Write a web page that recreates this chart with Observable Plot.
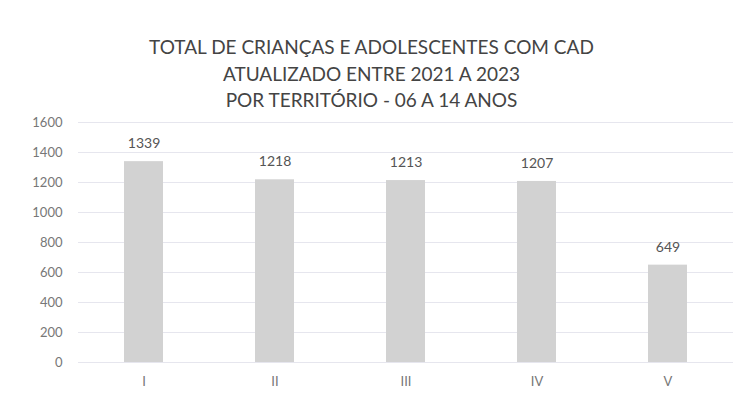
<!DOCTYPE html>
<html><head><meta charset="utf-8">
<script src="https://cdn.jsdelivr.net/npm/d3@7"></script>
<script src="https://cdn.jsdelivr.net/npm/@observablehq/plot@0.6"></script>
<style>
body{margin:0;background:#fff;font-family:Lato,"Open Sans",sans-serif;}
#title{width:743px;height:110px;box-sizing:border-box;padding-top:34px;text-align:center;color:#444;font-size:19px;line-height:26.5px;}
</style></head>
<body>
<div id="title">TOTAL DE CRIANÇAS E ADOLESCENTES COM CAD<br>ATUALIZADO ENTRE 2021 A 2023<br>POR TERRITÓRIO - 06 A 14 ANOS</div>
<div id="chart"></div>
<script>
const territorios = ["I","II","III","IV","V"];
const totais = [1339,1218,1213,1207,649];
const yTicks = [0,200,400,600,800,1000,1200,1400,1600];
const data = territorios.map((t,i)=>({t, v: totais[i]}));
const chart = Plot.plot({
  width: 743, height: 290,
  marginTop: 12, marginBottom: 38, marginLeft: 78, marginRight: 10,
  style: {fontFamily: "Lato, 'Open Sans', sans-serif", fontSize: "13px", color: "#777", background: "#fff"},
  x: {domain: territorios, paddingInner: 0.7, paddingOuter: 0.35, label: null, tickSize: 0, tickPadding: 14},
  y: {domain: [0,1600], ticks: yTicks, tickFormat: "d", label: null, tickSize: 0, tickPadding: 16},
  marks: [
    Plot.gridY(yTicks, {stroke: "#e6e6ee", strokeOpacity: 1}),
    Plot.barY(data, {x: "t", y: "v", fill: "#d2d2d2"}),
    Plot.text(data, {x: "t", y: "v", text: d => String(d.v), dy: -18, fill: "#555", fontSize: 14})
  ]
});
document.getElementById("chart").appendChild(chart);
</script>
</body></html>
